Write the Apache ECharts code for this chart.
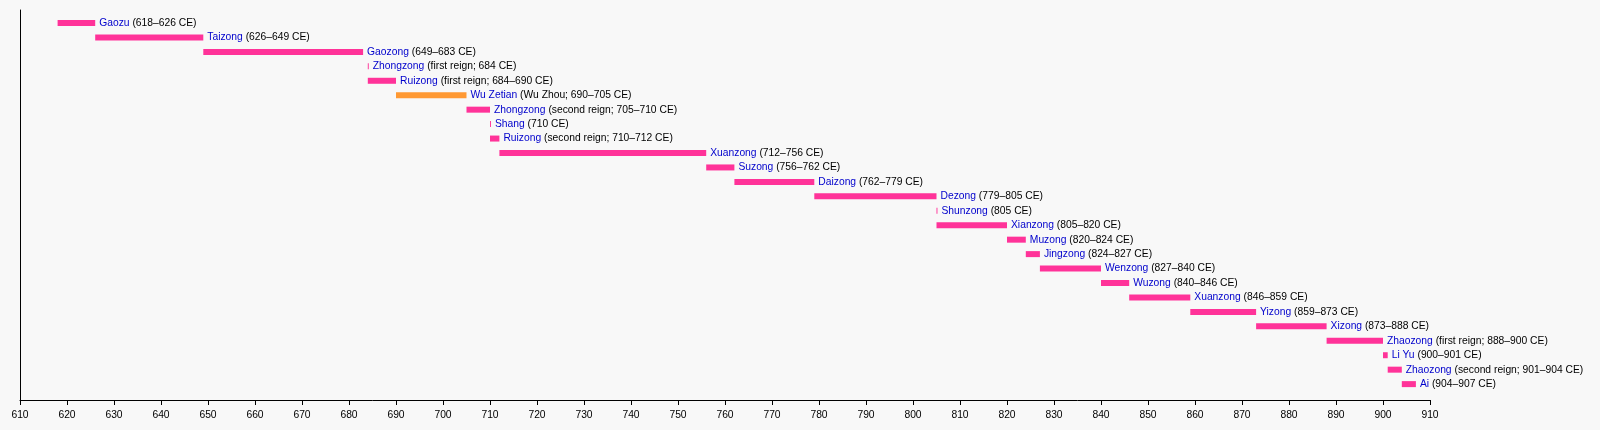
<!DOCTYPE html>
<html>
<head>
<meta charset="utf-8">
<script src="https://cdn.jsdelivr.net/npm/echarts@6/dist/echarts.min.js"></script>
<style>
  html, body { margin: 0; padding: 0; background: #f8f8f8; }
  #chart { width: 1600px; height: 430px; }
</style>
</head>
<body>
<div id="chart"></div>
<script>
// Tang dynasty emperors, reign years
const names = ['Gaozu', 'Taizong', 'Gaozong', 'Zhongzong', 'Ruizong', 'Wu Zetian', 'Zhongzong',
  'Shang', 'Ruizong', 'Xuanzong', 'Suzong', 'Daizong', 'Dezong', 'Shunzong', 'Xianzong',
  'Muzong', 'Jingzong', 'Wenzong', 'Wuzong', 'Xuanzong', 'Yizong', 'Xizong', 'Zhaozong',
  'Li Yu', 'Zhaozong', 'Ai']
const starts = [618, 626, 649, 684, 684, 690, 705, 710, 710, 712, 756, 762, 779, 805, 805,
  820, 824, 827, 840, 846, 859, 873, 888, 900, 901, 904]
const ends = [626, 649, 683, 684.2, 690, 705, 710, 710.2, 712, 756, 762, 779, 805, 805.2, 820,
  824, 827, 840, 846, 859, 873, 888, 900, 901, 904, 907]
const notes = ['618–626 CE', '626–649 CE', '649–683 CE', 'first reign; 684 CE',
  'first reign; 684–690 CE', 'Wu Zhou; 690–705 CE', 'second reign; 705–710 CE', '710 CE',
  'second reign; 710–712 CE', '712–756 CE', '756–762 CE', '762–779 CE', '779–805 CE',
  '805 CE', '805–820 CE', '820–824 CE', '824–827 CE', '827–840 CE', '840–846 CE',
  '846–859 CE', '859–873 CE', '873–888 CE', 'first reign; 888–900 CE', '900–901 CE',
  'second reign; 901–904 CE', '904–907 CE']
const dynasty = ['Tang', 'Tang', 'Tang', 'Tang', 'Tang', 'Zhou', 'Tang', 'Tang', 'Tang',
  'Tang', 'Tang', 'Tang', 'Tang', 'Tang', 'Tang', 'Tang', 'Tang', 'Tang', 'Tang', 'Tang',
  'Tang', 'Tang', 'Tang', 'Tang', 'Tang', 'Tang']
const yearMin = 610
const yearMax = 910
const yearStep = 10

const dynastyColors = { Tang: '#ff3399', Zhou: '#ff9933' }
const FONT = '"Liberation Sans", Arial, sans-serif'

const chart = echarts.init(document.getElementById('chart'))

const rows = names.map((n, i) => [i, starts[i], ends[i]])

const renderReign = (params, api) => {
  const i = api.value(0)
  const p0 = api.coord([api.value(1), i])
  const p1 = api.coord([api.value(2), i])
  return {
    type: 'group',
    children: [
      {
        type: 'rect',
        shape: { x: p0[0], y: p0[1] - 3, width: p1[0] - p0[0], height: 6 },
        style: { fill: dynastyColors[dynasty[i]] }
      },
      {
        type: 'text',
        x: p1[0] + 4,
        y: p0[1],
        style: {
          text: '{n|' + names[i] + '} (' + notes[i] + ')',
          verticalAlign: 'middle',
          align: 'left',
          fontFamily: FONT,
          fontSize: 10.3,
          fill: '#000',
          rich: {
            n: { fill: '#0000cc', fontFamily: FONT, fontSize: 10.3 }
          }
        }
      }
    ]
  }
}

chart.setOption({
  backgroundColor: '#f8f8f8',
  animation: false,
  grid: { left: 20, right: 170, top: 10, bottom: 30 },
  xAxis: {
    type: 'value',
    position: 'bottom',
    min: yearMin,
    max: yearMax,
    interval: yearStep,
    axisLine: { show: true, onZero: false, lineStyle: { color: '#000', width: 1 } },
    axisTick: { show: true, length: 5, lineStyle: { color: '#000' } },
    axisLabel: { color: '#000', fontFamily: FONT, fontSize: 10.3, margin: 10 },
    splitLine: { show: false }
  },
  yAxis: {
    type: 'value',
    position: 'left',
    inverse: true,
    min: -0.9,
    max: 26.1,
    axisLine: { show: true, onZero: false, lineStyle: { color: '#000', width: 1 } },
    axisTick: { show: false },
    axisLabel: { show: false },
    splitLine: { show: false }
  },
  series: [
    {
      type: 'custom',
      clip: false,
      renderItem: renderReign,
      encode: { x: [1, 2], y: 0 },
      data: rows
    }
  ]
})

window.addEventListener('resize', () => chart.resize())
</script>
</body>
</html>
